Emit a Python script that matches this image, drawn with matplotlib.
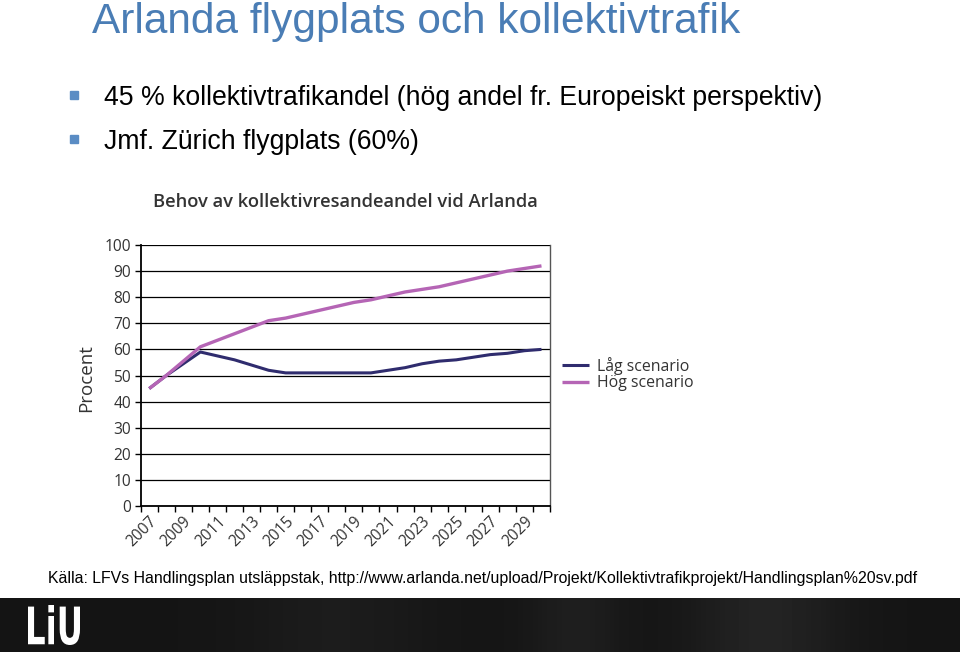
import matplotlib
matplotlib.use("Agg")
import matplotlib.pyplot as plt
import numpy as np
from matplotlib.patches import Rectangle, PathPatch
from matplotlib.textpath import TextPath
from matplotlib.font_manager import FontProperties
from matplotlib.transforms import Affine2D

# ---- data ----
years = list(range(2007, 2031))
hog = [45, 50, 55.5, 61, 63.5, 66, 68.5, 71, 72, 73.5, 75, 76.5, 78, 79,
       80.5, 82, 83, 84, 85.5, 87, 88.5, 90, 91, 92]
lag = [45, 50, 54.5, 59, 57.5, 56, 54, 52, 51, 51, 51, 51, 51, 51,
       52, 53, 54.5, 55.5, 56, 57, 58, 58.5, 59.5, 60]
series_labels = ["Låg scenario", "Hög scenario"]
yticks = list(range(0, 101, 10))
slide_title = "Arlanda flygplats och kollektivtrafik"
bullets = ["45 % kollektivtrafikandel (hög andel fr. Europeiskt perspektiv)",
           "Jmf. Zürich flygplats (60%)"]
chart_title = "Behov av kollektivresandeandel vid Arlanda"
source = "Källa: LFVs Handlingsplan utsläppstak, http://www.arlanda.net/upload/Projekt/Kollektivtrafikprojekt/Handlingsplan%20sv.pdf"

W, H = 960, 654
fig = plt.figure(figsize=(W / 100, H / 100), dpi=100)
fig.patch.set_facecolor("white")

def fx(px):
    return px / W

def fy(py):
    return 1 - py / H

# slide title
fig.text(fx(92), fy(33), slide_title, fontsize=30.5, color="#4a7db5",
         family="Liberation Sans", va="baseline", ha="left")

# bullets
for i, b in enumerate(bullets):
    base = 105 + i * 44
    fig.patches.append(Rectangle((fx(70), fy(base - 6)), 8 / W, 8 / H,
                                 transform=fig.transFigure, color="#5a8cc4"))
    fig.text(fx(104), fy(base), b, fontsize=19.2, color="black",
             family="Liberation Sans", va="baseline", ha="left")

# chart
left, right, top, bottom = 140.7, 550, 245, 506
ax = fig.add_axes([fx(left), fy(bottom), (right - left) / W, (bottom - top) / H])
x = np.arange(len(years))
ln_lag, = ax.plot(x, lag, color="#2f2c6e", lw=2.2, solid_capstyle="butt")
ln_hog, = ax.plot(x, hog, color="#b565b5", lw=2.4, solid_capstyle="butt")
ax.set_xlim(-0.5, len(years) - 0.5)
ax.set_ylim(0, 100)
ax.set_yticks(yticks)
ax.set_yticklabels([str(v) for v in yticks], fontsize=11.2, color="#333333",
                   family="Open Sans")
ax.grid(axis="y", color="black", lw=0.9)
ax.set_axisbelow(True)
ax.set_xticks(np.arange(-0.5, len(years), 1), minor=False)
ax.set_xticklabels([])
ax.tick_params(axis="x", which="major", length=4, width=1, direction="out", color="black")
ax.tick_params(axis="y", length=4, width=1, direction="out", color="black", pad=3)
ax.set_xticks(x[::2], minor=True)
ax.set_xticklabels([str(y) for y in years[::2]], minor=True, rotation=45,
                   ha="right", va="top", fontsize=11.2, color="#333333",
                   family="Open Sans", rotation_mode="anchor")
ax.tick_params(axis="x", which="minor", length=0, pad=5)
for s in ["left", "bottom"]:
    ax.spines[s].set_color("black")
    ax.spines[s].set_linewidth(1.3)
ax.spines["right"].set_color("#555555")
ax.spines["right"].set_linewidth(1.0)
ax.spines["top"].set_visible(False)

fig.text(fx(86), fy(378), "Procent", fontsize=13.5, color="#333333",
         family="Open Sans", rotation=90, va="center", ha="center")

fig.text(fx(153), fy(202), chart_title, fontsize=13.2, color="#333333",
         family="Open Sans", fontweight="semibold", va="center", ha="left")

fig.legend([ln_lag, ln_hog], series_labels, loc="center left",
           bbox_to_anchor=(fx(548), fy(374)), frameon=False,
           prop={"family": "Open Sans", "size": 11.4}, handlelength=1.7,
           handletextpad=0.5, labelspacing=0.05, labelcolor="#333333")

# source
fig.text(fx(48), fy(578), source, fontsize=11.4, color="black",
         family="Liberation Sans", va="center", ha="left")

# bottom band
bax = fig.add_axes([0, fy(652), 1, 54 / H])
grad = np.linspace(0, 1, 200)
band = 0.08 + 0.06 * np.exp(-((grad - 0.8) / 0.08) ** 2) + 0.04 * np.exp(-((grad - 0.6) / 0.05) ** 2) \
    + 0.03 * np.exp(-((grad - 0.35) / 0.1) ** 2)
bax.imshow(np.tile(band, (10, 1)), aspect="auto", cmap="gray", vmin=0, vmax=1,
           extent=(0, 1, 0, 1))
bax.set_axis_off()

# LiU logo (narrow, tall letters)
tp = TextPath((0, 0), "LiU", size=40, prop=FontProperties(family="DejaVu Sans", weight="bold"))
bb = tp.get_extents()
tr = Affine2D().translate(-bb.x0, -bb.y0).scale(52 / bb.width, 40 / bb.height).translate(28, H - 645)
logo = PathPatch(tr.transform_path(tp), facecolor="white", edgecolor="none")
logo.set_transform(Affine2D().scale(1 / W, 1 / H) + fig.transFigure)
fig.patches.append(logo)

fig.savefig("out.png", dpi=100)
